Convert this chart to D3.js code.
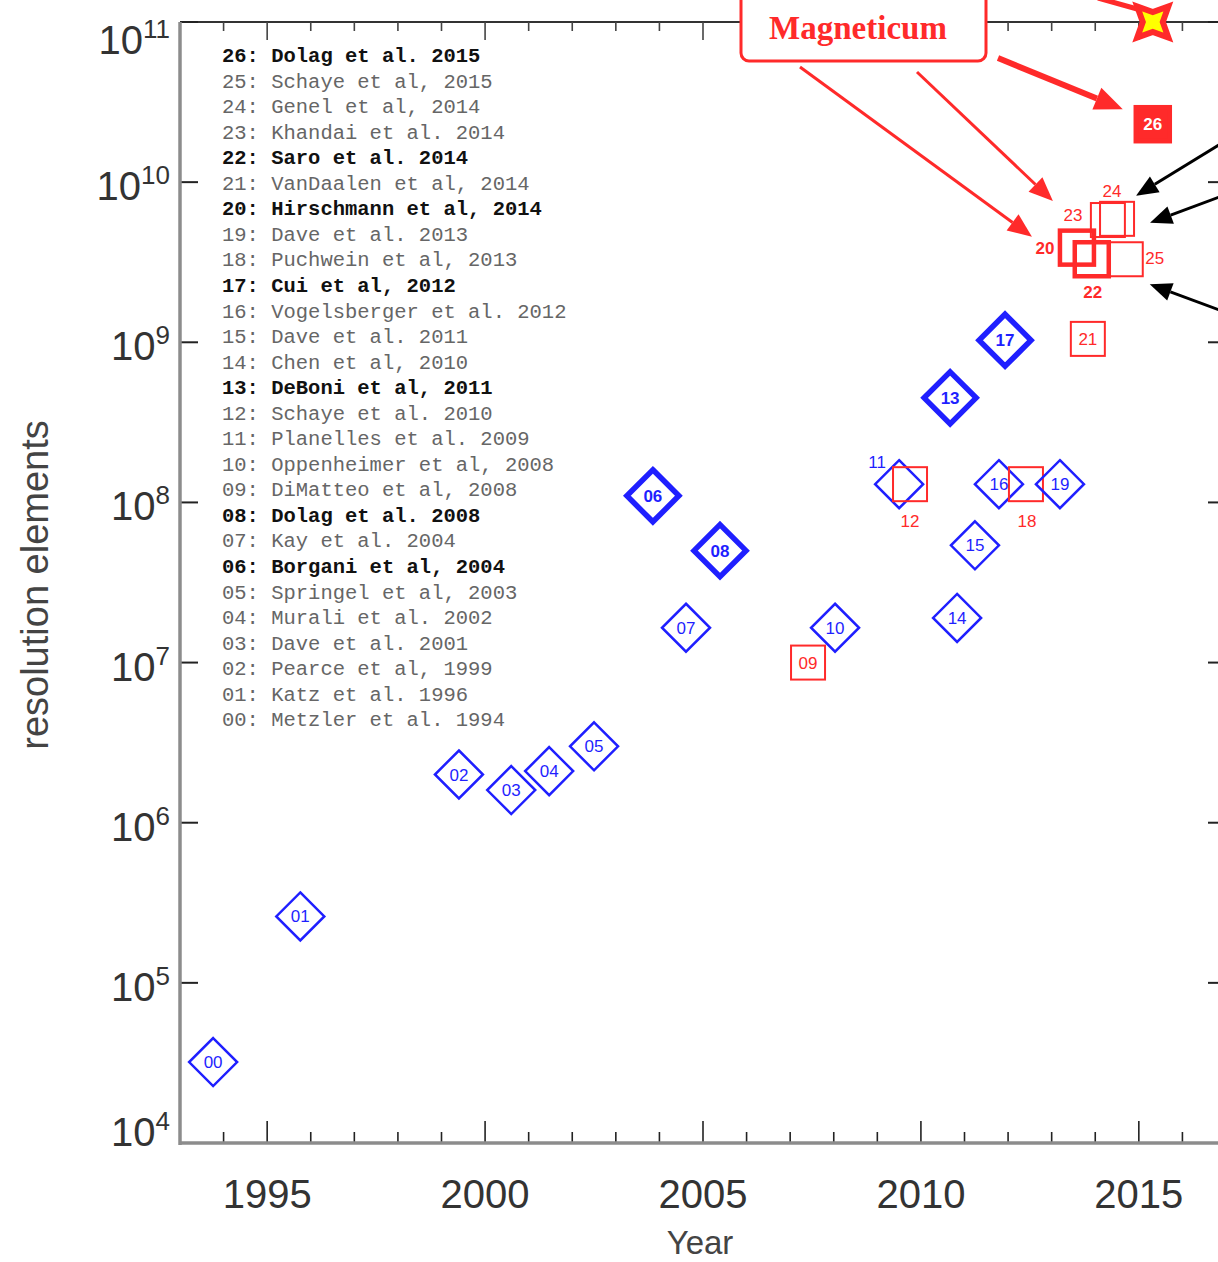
<!DOCTYPE html>
<html>
<head>
<meta charset="utf-8">
<script src="https://cdn.jsdelivr.net/npm/d3@7"></script>
<style>
  body { margin: 0; background: #fff; }
  text { font-family: "Liberation Sans", Arial, sans-serif; }
</style>
</head>
<body>
<svg width="1218" height="1262"></svg>
<script>
// simulation id, year, number of resolution elements, marker (d = diamond, s = square), bold entry
const ids = ['00','01','02','03','04','05','06','07','08','09','10','11','12','13',
             '14','15','16','17','18','19','20','21','22','23','24','25','26'];
const years = [1993.76, 1995.76, 1999.40, 2000.60, 2001.47, 2002.50, 2003.85, 2004.61, 2005.39,
               2007.41, 2008.03, 2009.50, 2009.75, 2010.67, 2010.83, 2011.24, 2011.79, 2011.93,
               2012.41, 2013.19, 2013.58, 2013.83, 2013.92, 2014.29, 2014.50, 2014.70, 2015.32];
const elements = [3.2e4, 2.6e5, 2.0e6, 1.6e6, 2.1e6, 3.0e6, 1.1e8, 1.65e7, 5.0e7,
                  1.0e7, 1.65e7, 1.3e8, 1.3e8, 4.5e8, 1.9e7, 5.4e7, 1.3e8, 1.03e9,
                  1.3e8, 1.3e8, 3.9e9, 1.05e9, 3.3e9, 5.8e9, 5.9e9, 3.3e9, 2.3e10];
const markers = ['d','d','d','d','d','d','d','d','d','s','d','d','s','d',
                 'd','d','d','d','s','d','s','s','s','s','s','s','s'];
const boldIds = ['06','08','13','17','20','22','26'];
const refs = ['Metzler et al. 1994', 'Katz et al. 1996', 'Pearce et al, 1999', 'Dave et al. 2001',
              'Murali et al. 2002', 'Springel et al, 2003', 'Borgani et al, 2004', 'Kay et al. 2004',
              'Dolag et al. 2008', 'DiMatteo et al, 2008', 'Oppenheimer et al, 2008',
              'Planelles et al. 2009', 'Schaye et al. 2010', 'DeBoni et al, 2011', 'Chen et al, 2010',
              'Dave et al. 2011', 'Vogelsberger et al. 2012', 'Cui et al, 2012', 'Puchwein et al, 2013',
              'Dave et al. 2013', 'Hirschmann et al, 2014', 'VanDaalen et al, 2014', 'Saro et al. 2014',
              'Khandai et al. 2014', 'Genel et al, 2014', 'Schaye et al, 2015', 'Dolag et al. 2015'];
// the upcoming run marked by the star
const starYear = 2015.32;
const starElements = 1e11;
const xTicks = [1995, 2000, 2005, 2010, 2015];
const yTicks = [1e4, 1e5, 1e6, 1e7, 1e8, 1e9, 1e10, 1e11];

const svg = d3.select('svg');
const plotLeft = 180, plotTop = 22, plotBottom = 1143;
const x = d3.scaleLinear().domain([1993, 2017]).range([plotLeft, 1226]);
const y = d3.scaleLog().domain([1e4, 1e11]).range([plotBottom, plotTop]);
const plotRight = x(2017);

const blue = '#1f1fff', red = '#ff2a2a';

// frame
svg.append('line').attr('x1', plotLeft).attr('x2', plotRight).attr('y1', plotTop).attr('y2', plotTop)
  .attr('stroke', '#333').attr('stroke-width', 2);
svg.append('line').attr('x1', plotRight).attr('x2', plotRight).attr('y1', plotTop).attr('y2', plotBottom)
  .attr('stroke', '#333').attr('stroke-width', 2);

// year ticks, bottom and top
const allYears = d3.range(1993, 2018);
allYears.forEach(function (yr) {
  const major = yr % 5 === 0;
  svg.append('line').attr('x1', x(yr)).attr('x2', x(yr))
    .attr('y1', plotBottom).attr('y2', plotBottom - (major ? 22 : 11))
    .attr('stroke', '#222').attr('stroke-width', 1.6);
  svg.append('line').attr('x1', x(yr)).attr('x2', x(yr))
    .attr('y1', plotTop).attr('y2', plotTop + (major ? 18 : 9))
    .attr('stroke', '#444').attr('stroke-width', 1.6);
});

// decade ticks left and right
yTicks.forEach(function (v) {
  svg.append('line').attr('x1', plotLeft).attr('x2', plotLeft + 18).attr('y1', y(v)).attr('y2', y(v))
    .attr('stroke', '#222').attr('stroke-width', 2);
  svg.append('line').attr('x1', plotRight).attr('x2', plotRight - 18).attr('y1', y(v)).attr('y2', y(v))
    .attr('stroke', '#222').attr('stroke-width', 2);
});

// gray axis lines
svg.append('line').attr('x1', plotLeft).attr('x2', plotLeft).attr('y1', plotTop).attr('y2', plotBottom + 2)
  .attr('stroke', '#8c8c8c').attr('stroke-width', 3.5);
svg.append('line').attr('x1', plotLeft).attr('x2', plotRight).attr('y1', plotBottom).attr('y2', plotBottom)
  .attr('stroke', '#8c8c8c').attr('stroke-width', 3.5);

// y tick labels 10^n
yTicks.forEach(function (v) {
  const cy = Math.max(40, Math.min(1132, y(v) + 4));
  const t = svg.append('text').attr('x', 170).attr('y', cy + 14)
    .attr('text-anchor', 'end').attr('fill', '#333').style('font-size', '40px');
  t.append('tspan').text('10');
  t.append('tspan').attr('dy', -16).style('font-size', '26px').text(Math.round(Math.log10(v)));
});

// x tick labels
xTicks.forEach(function (yr) {
  svg.append('text').attr('x', x(yr)).attr('y', 1208).attr('text-anchor', 'middle')
    .attr('fill', '#333').style('font-size', '40px').text(yr);
});

svg.append('text').attr('x', 700).attr('y', 1254).attr('text-anchor', 'middle')
  .attr('fill', '#444').style('font-size', '33px').text('Year');
svg.append('text').attr('transform', 'translate(48,585) rotate(-90)').attr('text-anchor', 'middle')
  .attr('fill', '#444').style('font-size', '38px').text('resolution elements');

// legend list, newest on top
const legendOrder = d3.range(ids.length).reverse();
legendOrder.forEach(function (i, k) {
  const isBold = boldIds.includes(ids[i]);
  svg.append('text').attr('x', 222).attr('y', 62 + k * 25.55)
    .attr('fill', isBold ? '#111' : '#666')
    .style('font-family', '"Liberation Mono", "DejaVu Sans Mono", monospace')
    .style('font-size', '20.5px')
    .style('font-weight', isBold ? 'bold' : 'normal')
    .text(ids[i] + ': ' + refs[i]);
});

// where a marker's number is written, relative to its marker
const labelOffset = {
  '11': [-22, -22], '12': [0, 37], '18': [1, 37], '20': [-32, 0], '22': [1, 33],
  '23': [-35, -5], '24': [-5, -28], '25': [29, -1]
};

const points = ids.map(function (id, i) {
  return { id: id, year: years[i], value: elements[i], marker: markers[i], bold: boldIds.includes(id) };
});

const g = svg.append('g');
points.forEach(function (p) {
  const px = x(p.year), py = y(p.value);
  if (p.marker === 'd') {
    const r = p.bold ? 26 : 24;
    g.append('path')
      .attr('d', 'M' + px + ',' + (py - r) + 'L' + (px + r) + ',' + py + 'L' + px + ',' + (py + r) + 'L' + (px - r) + ',' + py + 'Z')
      .attr('fill', 'none').attr('stroke', blue).attr('stroke-width', p.bold ? 5.5 : 2.5);
  } else {
    const s = 34;
    g.append('rect').attr('x', px - s / 2).attr('y', py - s / 2).attr('width', s).attr('height', s)
      .attr('fill', p.id === '26' ? red : 'none')
      .attr('stroke', red).attr('stroke-width', p.bold ? 4.5 : 2);
  }
});

points.forEach(function (p) {
  const px = x(p.year), py = y(p.value);
  const off = labelOffset[p.id] || [0, 0];
  g.append('text').attr('x', px + off[0]).attr('y', py + off[1] + 6)
    .attr('text-anchor', 'middle')
    .attr('fill', p.id === '26' ? '#fff' : (p.marker === 'd' ? blue : red))
    .style('font-size', '17px')
    .style('font-weight', p.bold ? 'bold' : 'normal')
    .text(p.id);
});

// star
const sx = x(starYear), sy = y(starElements);
const starPts = d3.range(8).map(function (k) {
  const a = k * Math.PI / 4;
  const rr = k % 2 === 0 ? 10 : 22;
  return [sx + rr * Math.cos(a), sy + rr * Math.sin(a)];
});
svg.append('path').attr('d', 'M' + starPts.join('L') + 'Z')
  .attr('fill', '#ffff00').attr('stroke', red).attr('stroke-width', 6);

// arrows
function arrow(x1, y1, x2, y2, color, w, head) {
  const a = Math.atan2(y2 - y1, x2 - x1);
  const bx = x2 - head * Math.cos(a), by = y2 - head * Math.sin(a);
  const hw = head * 0.42;
  svg.append('line').attr('x1', x1).attr('y1', y1).attr('x2', bx).attr('y2', by)
    .attr('stroke', color).attr('stroke-width', w);
  svg.append('path')
    .attr('d', 'M' + x2 + ',' + y2 +
      'L' + (bx + hw * Math.sin(a)) + ',' + (by - hw * Math.cos(a)) +
      'L' + (bx - hw * Math.sin(a)) + ',' + (by + hw * Math.cos(a)) + 'Z')
    .attr('fill', color);
}
function pos(id) {
  const p = points.find(function (d) { return d.id === id; });
  return [x(p.year), y(p.value)];
}
const p20 = pos('20'), p23 = pos('23'), p24 = pos('24'), p25 = pos('25'), p26 = pos('26');
arrow(800, 67, p20[0] - 45, p20[1] - 11, red, 3, 24);
arrow(917, 72, p23[0] - 55, p23[1] - 19, red, 3, 24);
arrow(998, 58, p26[0] - 30, p26[1] - 15, red, 6, 28);
svg.append('line').attr('x1', 1098).attr('y1', -2).attr('x2', sx - 12).attr('y2', sy - 12)
  .attr('stroke', red).attr('stroke-width', 5);
arrow(1222, 143, p24[0] + 19, p24[1] - 23, '#000', 3, 22);
arrow(1222, 196, p24[0] + 33, p24[1] + 4, '#000', 3, 22);
arrow(1222, 311, p25[0] + 24, p25[1] + 25, '#000', 3, 22);

// Magneticum box
svg.append('rect').attr('x', 741).attr('y', -12).attr('width', 245).attr('height', 73).attr('rx', 8)
  .attr('fill', '#fff').attr('stroke', red).attr('stroke-width', 3);
svg.append('text').attr('x', 858).attr('y', 39).attr('text-anchor', 'middle')
  .attr('fill', red).style('font-family', '"Liberation Serif", "Times New Roman", serif')
  .style('font-weight', 'bold').style('font-size', '33px').text('Magneticum');
</script>
</body>
</html>
